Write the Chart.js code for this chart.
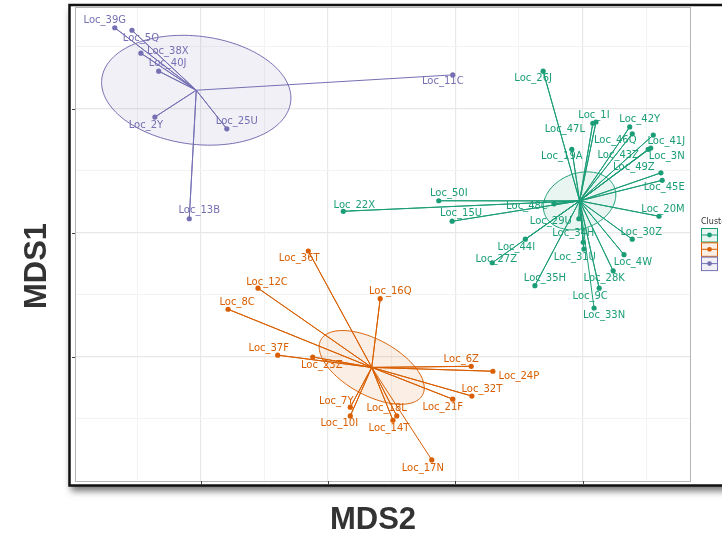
<!DOCTYPE html>
<html>
<head>
<meta charset="utf-8">
<script src="https://cdn.jsdelivr.net/npm/chart.js@4.4.1/dist/chart.umd.min.js"></script>
<style>
  html, body { margin: 0; padding: 0; background: #fff; }
</style>
</head>
<body>
<canvas id="mdsChart" width="722" height="535"></canvas>
<script>
// cluster 1 (green)
var names1 = ['Loc_26J', 'Loc_1I', 'Loc_47L', 'Loc_42Y', 'Loc_46Q', 'Loc_41J', 'Loc_43Z', 'Loc_3N', 'Loc_19A',
              'Loc_49Z', 'Loc_45E', 'Loc_20M', 'Loc_50I', 'Loc_15U', 'Loc_22X', 'Loc_48C', 'Loc_29U', 'Loc_30Z',
              'Loc_34H', 'Loc_31U', 'Loc_44I', 'Loc_27Z', 'Loc_4W', 'Loc_28K', 'Loc_35H', 'Loc_9C', 'Loc_33N'];
var mds2_1 = [0.338, 0.421, 0.416, 0.474, 0.478, 0.511, 0.503, 0.507, 0.383,
              0.523, 0.525, 0.520, 0.174, 0.195, 0.024, 0.355, 0.394, 0.478,
              0.401, 0.402, 0.310, 0.258, 0.465, 0.448, 0.325, 0.426, 0.418];
var mds1_1 = [0.261, 0.179, 0.177, 0.171, 0.160, 0.158, 0.135, 0.137, 0.135,
              0.097, 0.085, 0.027, 0.052, 0.019, 0.035, 0.047, 0.023, -0.010,
              -0.015, -0.026, -0.010, -0.048, -0.035, -0.061, -0.085, -0.089, -0.121];

// cluster 2 (orange)
var names2 = ['Loc_36T', 'Loc_12C', 'Loc_8C', 'Loc_16Q', 'Loc_37F', 'Loc_23Z', 'Loc_6Z', 'Loc_24P',
              'Loc_32T', 'Loc_21F', 'Loc_7Y', 'Loc_10I', 'Loc_18L', 'Loc_14T', 'Loc_17N'];
var mds2_2 = [-0.031, -0.110, -0.157, 0.082, -0.079, -0.024, 0.225, 0.259,
              0.226, 0.196, 0.035, 0.035, 0.108, 0.102, 0.163];
var mds1_2 = [-0.029, -0.089, -0.123, -0.106, -0.197, -0.200, -0.215, -0.223,
              -0.263, -0.268, -0.281, -0.295, -0.295, -0.302, -0.366];

// cluster 3 (purple)
var names3 = ['Loc_39G', 'Loc_5Q', 'Loc_38X', 'Loc_40J', 'Loc_2Y', 'Loc_25U', 'Loc_13B', 'Loc_11C'];
var mds2_3 = [-0.335, -0.308, -0.294, -0.266, -0.272, -0.159, -0.218, 0.196];
var mds1_3 = [0.331, 0.327, 0.290, 0.261, 0.187, 0.168, 0.023, 0.255];

var clusters = ['1', '2', '3'];
var xTicks = [-0.3, -0.2, -0.1, 0, 0.1, 0.2, 0.3, 0.4, 0.5];
var yTicks = [-0.3, -0.2, -0.1, 0, 0.1, 0.2, 0.3];

var colors = ['#1b9e77', '#d95f02', '#7570b3'];
var fills = ['rgba(27,158,119,0.10)', 'rgba(217,95,2,0.10)', 'rgba(117,112,179,0.10)'];

// where each text label sits relative to its point (pixels), like ggrepel put them
var labelOffsets = {
  'Loc_26J': [-10, 7], 'Loc_1I': [-2, -7], 'Loc_47L': [-28, 6], 'Loc_42Y': [10, -8], 'Loc_46Q': [-17, 7],
  'Loc_41J': [13, 6], 'Loc_43Z': [-30, 6], 'Loc_3N': [16, 8], 'Loc_19A': [-10, 7], 'Loc_49Z': [-27, -5],
  'Loc_45E': [2, 7], 'Loc_20M': [4, -7], 'Loc_50I': [10, -7], 'Loc_15U': [9, -8], 'Loc_22X': [11, -6],
  'Loc_48C': [-27, 3], 'Loc_29U': [-28, 3], 'Loc_30Z': [9, -7], 'Loc_34H': [-10, -9], 'Loc_31U': [-9, 8],
  'Loc_44I': [-9, 8], 'Loc_27Z': [4, -3], 'Loc_4W': [9, 8], 'Loc_28K': [-9, 8], 'Loc_35H': [10, -7],
  'Loc_9C': [-9, 8], 'Loc_33N': [10, 7],
  'Loc_36T': [-9, 7], 'Loc_12C': [9, -6], 'Loc_8C': [9, -7], 'Loc_16Q': [10, -7], 'Loc_37F': [-9, -7],
  'Loc_23Z': [9, 8], 'Loc_6Z': [-10, -7], 'Loc_24P': [26, 5], 'Loc_32T': [10, -7], 'Loc_21F': [-10, 8],
  'Loc_7Y': [-14, -6], 'Loc_10I': [-11, 8], 'Loc_18L': [-10, -7], 'Loc_14T': [-4, 8], 'Loc_17N': [-9, 8],
  'Loc_39G': [-10, -7], 'Loc_5Q': [9, 8], 'Loc_38X': [27, -2], 'Loc_40J': [9, -8], 'Loc_2Y': [-9, 8],
  'Loc_25U': [10, -7], 'Loc_13B': [10, -8], 'Loc_11C': [-10, 7]
};

var groups = [
  { names: names1, x: mds2_1, y: mds1_1 },
  { names: names2, x: mds2_2, y: mds1_2 },
  { names: names3, x: mds2_3, y: mds1_3 }
];

function mean(a) {
  var s = 0;
  for (var i = 0; i < a.length; i++) s += a[i];
  return s / a.length;
}

// 95% confidence ellipse of the cluster mean
function confEllipse(xs, ys, steps) {
  var n = xs.length, mx = mean(xs), my = mean(ys);
  var sxx = 0, syy = 0, sxy = 0;
  for (var i = 0; i < n; i++) {
    sxx += (xs[i] - mx) * (xs[i] - mx);
    syy += (ys[i] - my) * (ys[i] - my);
    sxy += (xs[i] - mx) * (ys[i] - my);
  }
  sxx = sxx / (n - 1) / n; syy = syy / (n - 1) / n; sxy = sxy / (n - 1) / n;
  var half = (sxx + syy) / 2;
  var d = Math.sqrt((sxx - syy) * (sxx - syy) / 4 + sxy * sxy);
  var l1 = half + d, l2 = half - d;
  var th = 0.5 * Math.atan2(2 * sxy, sxx - syy);
  var k = Math.sqrt(5.991465);
  var a = k * Math.sqrt(l1), b = k * Math.sqrt(Math.max(l2, 0));
  var pts = [];
  for (var j = 0; j <= steps; j++) {
    var t = 2 * Math.PI * j / steps;
    var ex = a * Math.cos(t), ey = b * Math.sin(t);
    pts.push({ x: mx + ex * Math.cos(th) - ey * Math.sin(th), y: my + ex * Math.sin(th) + ey * Math.cos(th) });
  }
  return pts;
}

// a dash pattern with no gap keeps Chart.js off its "fast path", which squashes near-vertical bits
var solid = [10000, 0];

var datasets = [];
groups.forEach(function (g, gi) {
  var cx = mean(g.x), cy = mean(g.y);
  var pts = [], spider = [];
  for (var i = 0; i < g.x.length; i++) {
    pts.push({ x: g.x[i], y: g.y[i], name: g.names[i] });
    spider.push({ x: cx, y: cy }, { x: g.x[i], y: g.y[i] });
  }
  datasets.push({
    label: 'ellipse' + clusters[gi],
    data: confEllipse(g.x, g.y, 160),
    showLine: true,
    fill: 'shape',
    backgroundColor: fills[gi],
    borderColor: colors[gi],
    borderWidth: 1,
    borderDash: solid,
    pointRadius: 0,
    tension: 0,
    order: 10 + gi
  });
  datasets.push({
    label: 'spider' + clusters[gi],
    data: spider,
    showLine: true,
    borderColor: colors[gi],
    borderWidth: 1,
    borderDash: solid,
    pointRadius: 0,
    order: 5 + gi
  });
  datasets.push({
    label: clusters[gi],
    data: pts,
    backgroundColor: colors[gi],
    borderWidth: 0,
    pointRadius: 2.6,
    labelColor: colors[gi],
    order: gi
  });
});

function isMajor(v) {
  return Math.round(v * 10) % 2 === 0;
}

var decor = {
  id: 'decor',
  beforeDraw: function (chart) {
    var c = chart.ctx;
    c.save();
    c.fillStyle = '#fff';
    c.fillRect(0, 0, chart.width, chart.height);
    // framed box with a soft shadow
    c.shadowColor = 'rgba(0,0,0,0.55)';
    c.shadowBlur = 7;
    c.shadowOffsetX = 2;
    c.shadowOffsetY = 5;
    c.fillStyle = '#fff';
    c.fillRect(69, 5, 720, 481);
    c.restore();
    c.save();
    c.strokeStyle = '#111';
    c.lineWidth = 2.5;
    c.strokeRect(69.5, 5, 720, 480.5);
    c.restore();
  },
  afterDatasetsDraw: function (chart) {
    var c = chart.ctx, a = chart.chartArea;
    c.save();
    // text labels
    c.font = '10px "DejaVu Sans"';
    c.textAlign = 'center';
    c.textBaseline = 'middle';
    chart.data.datasets.forEach(function (ds, i) {
      if (!ds.labelColor) return;
      var meta = chart.getDatasetMeta(i);
      c.fillStyle = ds.labelColor;
      meta.data.forEach(function (el, j) {
        var nm = ds.data[j].name;
        var off = labelOffsets[nm] || [0, -8];
        c.fillText(nm, el.x + off[0], el.y + off[1]);
      });
    });
    // panel border
    c.strokeStyle = '#b5b5b5';
    c.lineWidth = 1;
    c.strokeRect(a.left + 0.5, a.top + 0.5, a.right - a.left, a.bottom - a.top);
    // tick marks
    c.strokeStyle = '#444';
    var xs = chart.scales.x, ys = chart.scales.y;
    xTicks.forEach(function (v) {
      if (!isMajor(v)) return;
      var px = Math.round(xs.getPixelForValue(v)) + 0.5;
      c.beginPath(); c.moveTo(px, a.bottom); c.lineTo(px, a.bottom + 3); c.stroke();
    });
    yTicks.forEach(function (v) {
      if (!isMajor(v)) return;
      var py = Math.round(ys.getPixelForValue(v)) + 0.5;
      c.beginPath(); c.moveTo(a.left - 3, py); c.lineTo(a.left, py); c.stroke();
    });
    c.restore();
  },
  afterDraw: function (chart) {
    var c = chart.ctx;
    c.save();
    // axis titles
    c.fillStyle = '#333';
    c.font = 'bold 31px "Liberation Sans"';
    c.textAlign = 'center';
    c.textBaseline = 'middle';
    c.fillText('MDS2', 373, 520);
    c.translate(37, 266);
    c.rotate(-Math.PI / 2);
    c.fillText('MDS1', 0, 0);
    c.restore();
    // legend (cut by the right edge)
    c.save();
    c.font = '8px "DejaVu Sans"';
    c.fillStyle = '#333';
    c.textAlign = 'left';
    c.textBaseline = 'middle';
    c.fillText('Cluster', 701, 222);
    clusters.forEach(function (cl, i) {
      var y0 = 228 + i * 14.3;
      c.fillStyle = fills[i];
      c.fillRect(701, y0, 16, 13.5);
      c.strokeStyle = colors[i];
      c.lineWidth = 1;
      c.strokeRect(701.5, y0 + 0.5, 16, 13.5);
      c.beginPath(); c.moveTo(702, y0 + 7); c.lineTo(717, y0 + 7); c.stroke();
      c.fillStyle = colors[i];
      c.beginPath(); c.arc(709.5, y0 + 7, 2.4, 0, Math.PI * 2); c.fill();
      c.fillStyle = '#333';
      c.fillText(cl, 722, y0 + 7);
    });
    c.restore();
  }
};

var ctx = document.getElementById('mdsChart').getContext('2d');
var chart = new Chart(ctx, {
    type: 'scatter',
    data: { datasets: datasets },
    options: {
        responsive: false,
        animation: false,
        devicePixelRatio: 1,
        layout: { padding: { left: 75, top: 7, right: 32, bottom: 54 } },
        plugins: { legend: { display: false }, tooltip: { enabled: false } },
        scales: {
            x: {
                min: -0.3975, max: 0.5687,
                afterBuildTicks: function (s) { s.ticks = xTicks.map(function (v) { return { value: v }; }); },
                afterFit: function (s) { s.height = 0; },
                ticks: { display: false },
                border: { display: false },
                grid: {
                    drawTicks: false,
                    color: function (c) { return isMajor(c.tick.value) ? '#e8e8e8' : '#f3f3f3'; },
                    lineWidth: function (c) { return isMajor(c.tick.value) ? 1.2 : 1; }
                }
            },
            y: {
                min: -0.4, max: 0.3645,
                afterBuildTicks: function (s) { s.ticks = yTicks.map(function (v) { return { value: v }; }); },
                afterFit: function (s) { s.width = 0; },
                ticks: { display: false },
                border: { display: false },
                grid: {
                    drawTicks: false,
                    color: function (c) { return isMajor(c.tick.value) ? '#e8e8e8' : '#f3f3f3'; },
                    lineWidth: function (c) { return isMajor(c.tick.value) ? 1.2 : 1; }
                }
            }
        }
    },
    plugins: [decor]
});
</script>
</body>
</html>
